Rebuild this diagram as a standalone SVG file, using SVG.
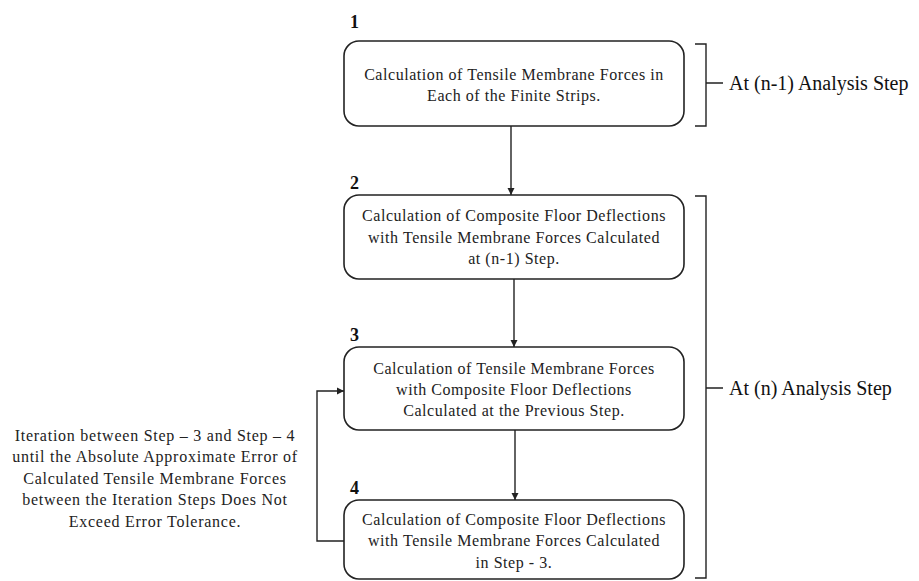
<svg xmlns="http://www.w3.org/2000/svg" width="919" height="581" viewBox="0 0 919 581">
  <style>
    .box { fill: #ffffff; stroke: #222222; stroke-width: 1.6; }
    .line { fill: none; stroke: #222222; stroke-width: 1.4; }
    .t { font-family: "Liberation Serif", "Times New Roman", serif; font-size: 16px; letter-spacing: 0.55px; fill: #222222; text-anchor: middle; }
    .num { font-family: "Liberation Serif", "Times New Roman", serif; font-size: 18px; font-weight: bold; fill: #111111; }
    .side { font-family: "Liberation Serif", "Times New Roman", serif; font-size: 20px; fill: #111111; }
    .note { font-family: "Liberation Serif", "Times New Roman", serif; font-size: 16px; letter-spacing: 0.75px; fill: #222222; text-anchor: middle; }
  </style>
  <defs>
    <marker id="arrow" viewBox="0 0 10 10" refX="10" refY="5" markerWidth="7" markerHeight="8" markerUnits="userSpaceOnUse" orient="auto">
      <path d="M0,0 L10,5 L0,10 z" fill="#222222"/>
    </marker>
  </defs>

  <g id="connectors">
    <line class="line" x1="511" y1="126" x2="511" y2="195" marker-end="url(#arrow)"/>
    <line class="line" x1="514" y1="279" x2="514" y2="347" marker-end="url(#arrow)"/>
    <line class="line" x1="515" y1="430" x2="515" y2="500" marker-end="url(#arrow)"/>
    <polyline class="line" points="344,541 317,541 317,391 344,391" marker-end="url(#arrow)"/>
  </g>

  <g id="step1">
    <text class="num" x="350" y="28">1</text>
    <rect class="box" x="344" y="41" width="340" height="85" rx="15" ry="15"/>
    <text class="t" x="514" y="80">Calculation of Tensile Membrane Forces in</text>
    <text class="t" x="514" y="101">Each of the Finite Strips.</text>
  </g>

  <g id="step2">
    <text class="num" x="350" y="189">2</text>
    <rect class="box" x="344" y="195" width="340" height="84" rx="15" ry="15"/>
    <text class="t" x="514" y="221">Calculation of Composite Floor Deflections</text>
    <text class="t" x="514" y="243">with Tensile Membrane Forces Calculated</text>
    <text class="t" x="514" y="264">at (n-1) Step.</text>
  </g>

  <g id="step3">
    <text class="num" x="350" y="341">3</text>
    <rect class="box" x="344" y="347" width="340" height="83" rx="15" ry="15"/>
    <text class="t" x="514" y="374">Calculation of Tensile Membrane Forces</text>
    <text class="t" x="514" y="395">with Composite Floor Deflections</text>
    <text class="t" x="514" y="416">Calculated at the Previous Step.</text>
  </g>

  <g id="step4">
    <text class="num" x="350" y="494">4</text>
    <rect class="box" x="344" y="500" width="340" height="79" rx="15" ry="15"/>
    <text class="t" x="514" y="525">Calculation of Composite Floor Deflections</text>
    <text class="t" x="514" y="546">with Tensile Membrane Forces Calculated</text>
    <text class="t" x="514" y="568">in Step - 3.</text>
  </g>

  <g id="iteration-note">
    <text class="note" x="155" y="441">Iteration between Step – 3 and Step – 4</text>
    <text class="note" x="155" y="462">until the Absolute Approximate Error of</text>
    <text class="note" x="155" y="484">Calculated Tensile Membrane Forces</text>
    <text class="note" x="155" y="505">between the Iteration Steps Does Not</text>
    <text class="note" x="155" y="527">Exceed Error Tolerance.</text>
  </g>

  <g id="bracket-n-1">
    <path class="line" d="M695,44 L706,44 L706,126 L695,126 M706,83 L723,83"/>
    <text class="side" x="729" y="90">At (n-1) Analysis Step</text>
  </g>

  <g id="bracket-n">
    <path class="line" d="M695,196 L706,196 L706,578 L695,578 M706,388 L723,388"/>
    <text class="side" x="729" y="395">At (n) Analysis Step</text>
  </g>
</svg>
